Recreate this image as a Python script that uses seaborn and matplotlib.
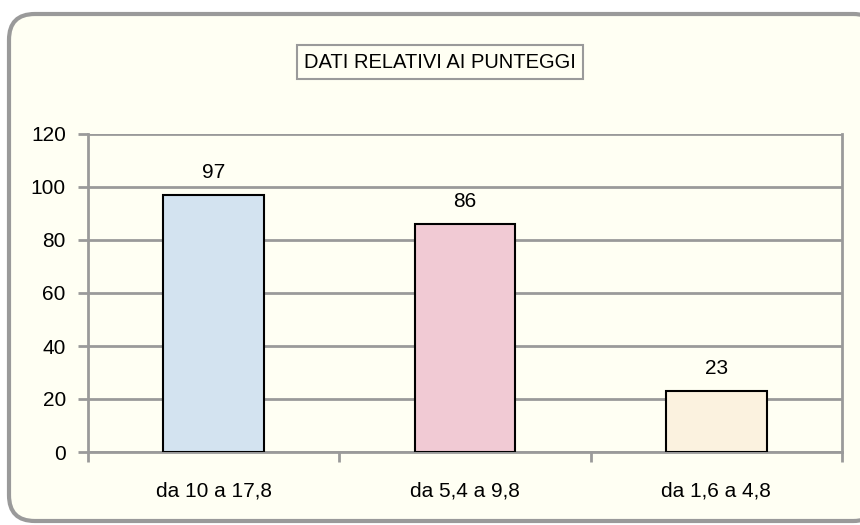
import matplotlib
matplotlib.use('Agg')
import matplotlib.pyplot as plt
import seaborn as sns
import pandas as pd
from matplotlib.patches import FancyBboxPatch

# ── Data ──────────────────────────────────────────────────────
categories = ['da 10 a 17,8', 'da 5,4 a 9,8', 'da 1,6 a 4,8']
counts     = [97, 86, 23]
bar_colors = ['#d3e3f0', '#f1cad4', '#fbf2df']
title      = 'DATI RELATIVI AI PUNTEGGI'

df = pd.DataFrame({'fascia': categories, 'n': counts})

sns.set_style('white')
plt.rcParams['font.family'] = ['Liberation Sans', 'DejaVu Sans']
plt.rcParams['text.color'] = 'black'
plt.rcParams['xtick.labelcolor'] = 'black'
plt.rcParams['ytick.labelcolor'] = 'black'

BG   = '#fffff3'
GRID = '#9a9a9a'

fig = plt.figure(figsize=(8.6, 5.25), dpi=100)
fig.patch.set_facecolor('white')

# rounded chart-area frame (drawn behind the axes)
frame = FancyBboxPatch((9 / 860, 4 / 525), 870 / 860, 507 / 525,
                       boxstyle='round,pad=0,rounding_size=0.03',
                       transform=fig.transFigure, facecolor=BG,
                       edgecolor=GRID, linewidth=3, zorder=-1,
                       mutation_aspect=860 / 525)
fig.patches.append(frame)

ax = fig.add_axes([88 / 860, 1 - 452 / 525, (842 - 88) / 860, (452 - 134) / 525])
ax.set_facecolor(BG)

sns.barplot(data=df, x='fascia', y='n', hue='fascia', palette=bar_colors,
            saturation=1, legend=False, width=0.4, edgecolor='black',
            linewidth=1.5, ax=ax, zorder=3)

for i, v in enumerate(counts):
    ax.text(i, v + 5, str(v), ha='center', va='bottom', fontsize=15)

ax.set_ylim(0, 120)
ax.set_xlim(-0.5, 2.5)
ax.set_yticks(range(0, 121, 20))
ax.yaxis.grid(True, color=GRID, linewidth=2, zorder=0)
ax.set_axisbelow(True)
ax.set_xlabel('')
ax.set_ylabel('')

for s in ax.spines.values():
    s.set_color(GRID)
    s.set_linewidth(2)
ax.spines['top'].set_visible(False)

ax.tick_params(axis='y', direction='out', length=7, width=2, color=GRID,
               labelsize=15, pad=9, left=True)
ax.tick_params(axis='x', which='major', length=0, labelsize=15, pad=21)
ax.set_xticks([-0.5, 0.5, 1.5, 2.5], minor=True)
ax.tick_params(axis='x', which='minor', direction='out', length=7, width=2,
               color=GRID, bottom=True)

fig.text(440 / 860, 1 - 62 / 525, title, ha='center', va='center',
         fontsize=14.5,
         bbox=dict(boxstyle='square,pad=0.35', facecolor=BG,
                   edgecolor=GRID, linewidth=1.5))

fig.savefig('out.png', dpi=100, facecolor=fig.get_facecolor())
